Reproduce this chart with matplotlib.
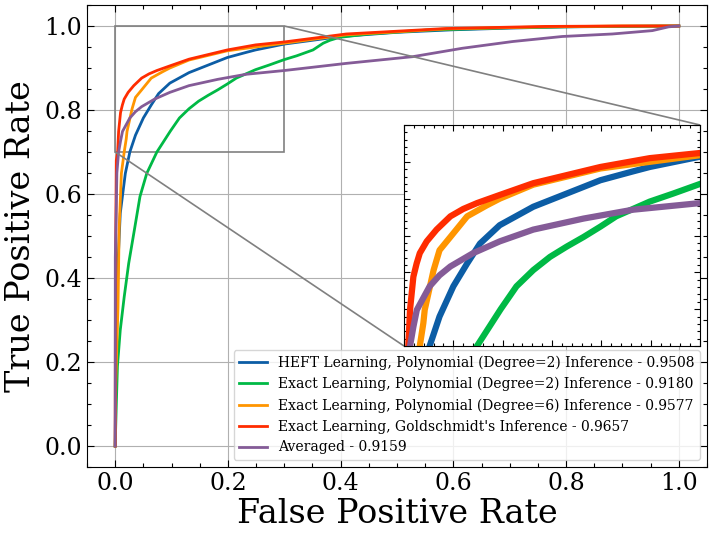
import matplotlib
matplotlib.use("Agg")
import matplotlib.pyplot as plt
from matplotlib.ticker import AutoMinorLocator
from mpl_toolkits.axes_grid1.inset_locator import mark_inset

plt.rcParams['font.family'] = ['DejaVu Serif']
plt.rcParams['mathtext.fontset'] = 'dejavuserif'

# ROC curves
heft2_fpr = [0, 0.0005, 0.003, 0.005, 0.009, 0.018, 0.026, 0.036, 0.050, 0.064, 0.077, 0.097,
             0.131, 0.165, 0.199, 0.232, 0.249, 0.30, 0.40, 0.50, 0.60, 0.70, 0.80, 0.90, 1.0]
heft2_tpr = [0, 0.10, 0.31, 0.435, 0.554, 0.649, 0.70, 0.74, 0.781, 0.812, 0.839, 0.864,
             0.889, 0.907, 0.925, 0.937, 0.943, 0.957, 0.975, 0.985, 0.991, 0.995, 0.998, 0.999, 1.0]

exact2_fpr = [0, 0.002, 0.004, 0.009, 0.016, 0.024, 0.034, 0.044, 0.056, 0.074, 0.098, 0.114,
              0.131, 0.148, 0.165, 0.182, 0.199, 0.215, 0.249, 0.273, 0.30, 0.322, 0.351,
              0.369, 0.381, 0.398, 0.45, 0.55, 0.70, 0.85, 1.0]
exact2_tpr = [0, 0.10, 0.19, 0.276, 0.355, 0.435, 0.514, 0.594, 0.649, 0.700, 0.750, 0.781,
              0.803, 0.821, 0.835, 0.848, 0.862, 0.876, 0.896, 0.907, 0.920, 0.929, 0.943,
              0.959, 0.966, 0.973, 0.981, 0.990, 0.996, 0.999, 1.0]

exact6_fpr = [0, 0.001, 0.005, 0.007, 0.011, 0.016, 0.0196, 0.021, 0.030, 0.036, 0.047, 0.064,
              0.084, 0.097, 0.131, 0.165, 0.199, 0.249, 0.30, 0.41, 0.587, 0.764, 0.90, 1.0]
exact6_tpr = [0, 0.15, 0.33, 0.514, 0.649, 0.70, 0.731, 0.749, 0.803, 0.830, 0.848, 0.876,
              0.891, 0.900, 0.919, 0.930, 0.941, 0.950, 0.959, 0.979, 0.993, 0.998, 1.0, 1.0]

gold_fpr = [0, 0.0005, 0.002, 0.0044, 0.0061, 0.0095, 0.0128, 0.016, 0.023, 0.033, 0.047, 0.060,
            0.074, 0.097, 0.131, 0.165, 0.199, 0.249, 0.30, 0.41, 0.587, 0.764, 0.90, 1.0]
gold_tpr = [0, 0.40, 0.68, 0.70, 0.749, 0.794, 0.812, 0.826, 0.842, 0.858, 0.876, 0.886,
            0.894, 0.905, 0.921, 0.932, 0.943, 0.955, 0.962, 0.981, 0.994, 0.999, 1.0, 1.0]

avg_fpr = [0, 0.0002, 0.002, 0.003, 0.006, 0.0095, 0.013, 0.026, 0.036, 0.047, 0.070, 0.097,
           0.131, 0.182, 0.232, 0.30, 0.41, 0.528, 0.616, 0.705, 0.793, 0.882, 0.953, 0.982, 1.0]
avg_tpr = [0, 0.45, 0.57, 0.65, 0.699, 0.726, 0.749, 0.781, 0.796, 0.808, 0.826, 0.842,
           0.858, 0.873, 0.885, 0.894, 0.911, 0.927, 0.947, 0.963, 0.975, 0.981, 0.989, 0.998, 1.0]

labels = ["HEFT Learning, Polynomial (Degree=2) Inference - 0.9508",
          "Exact Learning, Polynomial (Degree=2) Inference - 0.9180",
          "Exact Learning, Polynomial (Degree=6) Inference - 0.9577",
          "Exact Learning, Goldschmidt's Inference - 0.9657",
          "Averaged - 0.9159"]
colors = ['#0C5DA5', '#00B945', '#FF9500', '#FF2C00', '#845B97']
curves = [(heft2_fpr, heft2_tpr), (exact2_fpr, exact2_tpr), (exact6_fpr, exact6_tpr),
          (gold_fpr, gold_tpr), (avg_fpr, avg_tpr)]


def style_ticks(ax):
    ax.xaxis.set_minor_locator(AutoMinorLocator())
    ax.yaxis.set_minor_locator(AutoMinorLocator())
    ax.tick_params(which='both', direction='in', top=True, right=True)
    ax.tick_params(which='major', length=5, width=0.8)
    ax.tick_params(which='minor', length=3, width=0.8)


fig = plt.figure(figsize=(7.12, 5.37), dpi=100)
ax = fig.add_axes([87 / 712, 70 / 537, 620 / 712, 462 / 537])

for (fpr, tpr), c, lab in zip(curves, colors, labels):
    ax.plot(fpr, tpr, color=c, lw=2, label=lab)

ax.set_xlim(-0.05, 1.05)
ax.set_ylim(-0.05, 1.05)
ax.grid(True, color='#b0b0b0', lw=0.8)
ax.set_axisbelow(True)
style_ticks(ax)
ax.tick_params(labelsize=17)
ax.set_xlabel('False Positive Rate', fontsize=24, labelpad=2)
ax.set_ylabel('True Positive Rate', fontsize=24, labelpad=5)
ax.legend(loc='lower right', fontsize=10)

# zoomed inset of the top-left corner
axins = fig.add_axes([404 / 712, 191 / 537, 296 / 712, 221 / 537])
for (fpr, tpr), c in zip(curves, colors):
    axins.plot(fpr, tpr, color=c, lw=4.5)
axins.set_xlim(0, 0.3)
axins.set_ylim(0.7, 1.0)
style_ticks(axins)
axins.tick_params(which='major', length=4)
axins.tick_params(which='minor', length=2)
axins.set_xticklabels([])
axins.set_yticklabels([])

mark_inset(ax, axins, loc1=1, loc2=3, fc='none', ec='0.5', lw=1.2)

fig.savefig('out.png', dpi=100)
